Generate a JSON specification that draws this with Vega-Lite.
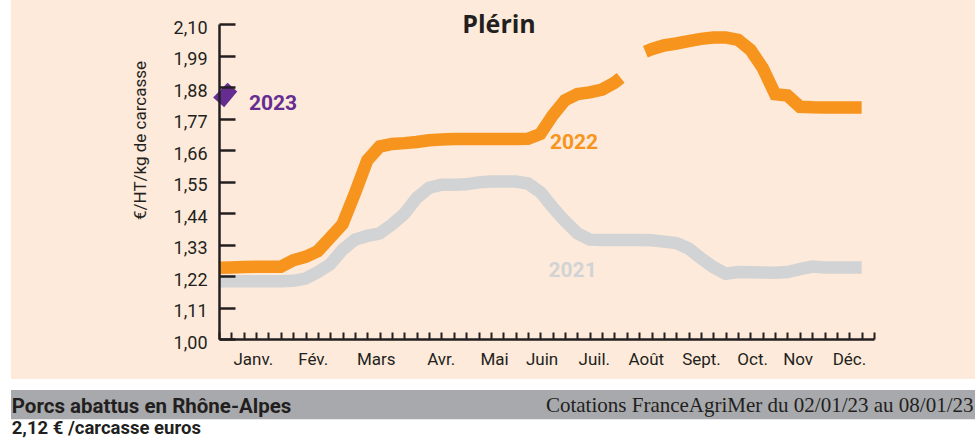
{
  "$schema": "https://vega.github.io/schema/vega-lite/v6.json",
  "width": 655,
  "height": 315,
  "autosize": {"type": "none"},
  "padding": {"left": 219, "top": 24, "right": 101, "bottom": 100},
  "background": "#ffffff",
  "config": {
    "view": {"stroke": null},
    "font": "Roboto",
    "axis": {
      "grid": false,
      "domainColor": "#231f20",
      "tickColor": "#231f20",
      "labelColor": "#231f20",
      "titleColor": "#231f20",
      "labelFont": "Roboto",
      "titleFont": "Roboto"
    }
  },
  "datasets": {
    "prices": [
      {"year": "2021", "seg": "a", "week": 0, "price": 1.202},
      {"year": "2021", "seg": "a", "week": 1, "price": 1.202},
      {"year": "2021", "seg": "a", "week": 2, "price": 1.202},
      {"year": "2021", "seg": "a", "week": 3, "price": 1.202},
      {"year": "2021", "seg": "a", "week": 4, "price": 1.202},
      {"year": "2021", "seg": "a", "week": 5, "price": 1.202},
      {"year": "2021", "seg": "a", "week": 6, "price": 1.203},
      {"year": "2021", "seg": "a", "week": 7, "price": 1.211},
      {"year": "2021", "seg": "a", "week": 8, "price": 1.234},
      {"year": "2021", "seg": "a", "week": 9, "price": 1.261},
      {"year": "2021", "seg": "a", "week": 10, "price": 1.312},
      {"year": "2021", "seg": "a", "week": 11, "price": 1.347},
      {"year": "2021", "seg": "a", "week": 12, "price": 1.36},
      {"year": "2021", "seg": "a", "week": 13, "price": 1.369},
      {"year": "2021", "seg": "a", "week": 14, "price": 1.4},
      {"year": "2021", "seg": "a", "week": 15, "price": 1.438},
      {"year": "2021", "seg": "a", "week": 16, "price": 1.493},
      {"year": "2021", "seg": "a", "week": 17, "price": 1.528},
      {"year": "2021", "seg": "a", "week": 18, "price": 1.539},
      {"year": "2021", "seg": "a", "week": 19, "price": 1.539},
      {"year": "2021", "seg": "a", "week": 20, "price": 1.54},
      {"year": "2021", "seg": "a", "week": 21, "price": 1.547},
      {"year": "2021", "seg": "a", "week": 22, "price": 1.55},
      {"year": "2021", "seg": "a", "week": 23, "price": 1.55},
      {"year": "2021", "seg": "a", "week": 24, "price": 1.55},
      {"year": "2021", "seg": "a", "week": 25, "price": 1.543},
      {"year": "2021", "seg": "a", "week": 26, "price": 1.513},
      {"year": "2021", "seg": "a", "week": 27, "price": 1.46},
      {"year": "2021", "seg": "a", "week": 28, "price": 1.411},
      {"year": "2021", "seg": "a", "week": 29, "price": 1.369},
      {"year": "2021", "seg": "a", "week": 30, "price": 1.347},
      {"year": "2021", "seg": "a", "week": 31, "price": 1.346},
      {"year": "2021", "seg": "a", "week": 32, "price": 1.346},
      {"year": "2021", "seg": "a", "week": 33, "price": 1.346},
      {"year": "2021", "seg": "a", "week": 34, "price": 1.346},
      {"year": "2021", "seg": "a", "week": 35, "price": 1.345},
      {"year": "2021", "seg": "a", "week": 36, "price": 1.34},
      {"year": "2021", "seg": "a", "week": 37, "price": 1.335},
      {"year": "2021", "seg": "a", "week": 38, "price": 1.316},
      {"year": "2021", "seg": "a", "week": 39, "price": 1.282},
      {"year": "2021", "seg": "a", "week": 40, "price": 1.251},
      {"year": "2021", "seg": "a", "week": 41, "price": 1.228},
      {"year": "2021", "seg": "a", "week": 42, "price": 1.234},
      {"year": "2021", "seg": "a", "week": 43, "price": 1.233},
      {"year": "2021", "seg": "a", "week": 44, "price": 1.232},
      {"year": "2021", "seg": "a", "week": 45, "price": 1.231},
      {"year": "2021", "seg": "a", "week": 46, "price": 1.234},
      {"year": "2021", "seg": "a", "week": 47, "price": 1.244},
      {"year": "2021", "seg": "a", "week": 48, "price": 1.253},
      {"year": "2021", "seg": "a", "week": 49, "price": 1.25},
      {"year": "2021", "seg": "a", "week": 50, "price": 1.25},
      {"year": "2021", "seg": "a", "week": 51, "price": 1.25},
      {"year": "2021", "seg": "a", "week": 52, "price": 1.25},
      {"year": "2022", "seg": "a", "week": 0, "price": 1.249},
      {"year": "2022", "seg": "a", "week": 1, "price": 1.25},
      {"year": "2022", "seg": "a", "week": 2, "price": 1.251},
      {"year": "2022", "seg": "a", "week": 3, "price": 1.252},
      {"year": "2022", "seg": "a", "week": 4, "price": 1.252},
      {"year": "2022", "seg": "a", "week": 5, "price": 1.252},
      {"year": "2022", "seg": "a", "week": 6, "price": 1.275},
      {"year": "2022", "seg": "a", "week": 7, "price": 1.287},
      {"year": "2022", "seg": "a", "week": 8, "price": 1.307},
      {"year": "2022", "seg": "a", "week": 9, "price": 1.354},
      {"year": "2022", "seg": "a", "week": 10, "price": 1.401},
      {"year": "2022", "seg": "a", "week": 11, "price": 1.509},
      {"year": "2022", "seg": "a", "week": 12, "price": 1.624},
      {"year": "2022", "seg": "a", "week": 13, "price": 1.672},
      {"year": "2022", "seg": "a", "week": 14, "price": 1.681},
      {"year": "2022", "seg": "a", "week": 15, "price": 1.684},
      {"year": "2022", "seg": "a", "week": 16, "price": 1.688},
      {"year": "2022", "seg": "a", "week": 17, "price": 1.694},
      {"year": "2022", "seg": "a", "week": 18, "price": 1.697},
      {"year": "2022", "seg": "a", "week": 19, "price": 1.698},
      {"year": "2022", "seg": "a", "week": 20, "price": 1.698},
      {"year": "2022", "seg": "a", "week": 21, "price": 1.698},
      {"year": "2022", "seg": "a", "week": 22, "price": 1.698},
      {"year": "2022", "seg": "a", "week": 23, "price": 1.698},
      {"year": "2022", "seg": "a", "week": 24, "price": 1.698},
      {"year": "2022", "seg": "a", "week": 25, "price": 1.699},
      {"year": "2022", "seg": "a", "week": 26, "price": 1.716},
      {"year": "2022", "seg": "a", "week": 27, "price": 1.781},
      {"year": "2022", "seg": "a", "week": 28, "price": 1.834},
      {"year": "2022", "seg": "a", "week": 29, "price": 1.855},
      {"year": "2022", "seg": "a", "week": 30, "price": 1.861},
      {"year": "2022", "seg": "a", "week": 31, "price": 1.871},
      {"year": "2022", "seg": "a", "week": 32, "price": 1.895},
      {"year": "2022", "seg": "a", "week": 32.5, "price": 1.912},
      {"year": "2022", "seg": "b", "week": 34.5, "price": 2.003},
      {"year": "2022", "seg": "b", "week": 35, "price": 2.012},
      {"year": "2022", "seg": "b", "week": 36, "price": 2.025},
      {"year": "2022", "seg": "b", "week": 37, "price": 2.032},
      {"year": "2022", "seg": "b", "week": 38, "price": 2.04},
      {"year": "2022", "seg": "b", "week": 39, "price": 2.048},
      {"year": "2022", "seg": "b", "week": 40, "price": 2.053},
      {"year": "2022", "seg": "b", "week": 41, "price": 2.053},
      {"year": "2022", "seg": "b", "week": 42, "price": 2.045},
      {"year": "2022", "seg": "b", "week": 43, "price": 2.01},
      {"year": "2022", "seg": "b", "week": 44, "price": 1.946},
      {"year": "2022", "seg": "b", "week": 45, "price": 1.855},
      {"year": "2022", "seg": "b", "week": 46, "price": 1.85},
      {"year": "2022", "seg": "b", "week": 47, "price": 1.811},
      {"year": "2022", "seg": "b", "week": 48, "price": 1.809},
      {"year": "2022", "seg": "b", "week": 49, "price": 1.808},
      {"year": "2022", "seg": "b", "week": 50, "price": 1.808},
      {"year": "2022", "seg": "b", "week": 51, "price": 1.808},
      {"year": "2022", "seg": "b", "week": 52, "price": 1.808},
      {"year": "2023", "seg": "a", "week": 0.53, "price": 1.852}
    ],
    "months": [
      {"month": "Janv.", "week": 2.78},
      {"month": "Fév.", "week": 7.62},
      {"month": "Mars", "week": 12.72},
      {"month": "Avr.", "week": 17.98},
      {"month": "Mai", "week": 22.3},
      {"month": "Juin", "week": 26.14},
      {"month": "Juil.", "week": 30.37},
      {"month": "Août", "week": 34.58},
      {"month": "Sept.", "week": 39.04},
      {"month": "Oct.", "week": 43.18},
      {"month": "Nov", "week": 46.86},
      {"month": "Déc.", "week": 51.01}
    ]
  },
  "layer": [
    {
      "data": {"values": [{"part": "panel"}]},
      "mark": {"type": "rect", "color": "#fdeada"},
      "encoding": {
        "x": {"datum": -16.83, "type": "quantitative"},
        "x2": {"datum": 61.2},
        "y": {"datum": 2.184, "type": "quantitative"},
        "y2": {"datum": 0.8603}
      }
    },
    {
      "data": {"values": [{"part": "bar"}]},
      "mark": {"type": "rect", "color": "#a7a9ac"},
      "encoding": {
        "x": {"datum": -16.83, "type": "quantitative"},
        "x2": {"datum": 61.2},
        "y": {"datum": 0.8219, "type": "quantitative"},
        "y2": {"datum": 0.7196}
      }
    },
    {
      "data": {"name": "prices"},
      "transform": [{"filter": "datum.year == '2021'"}],
      "mark": {"type": "line", "color": "#d1d3d4", "strokeWidth": 12.5, "strokeCap": "butt"},
      "encoding": {
        "x": {
          "field": "week", "type": "quantitative",
          "scale": {"domain": [0, 53], "nice": false, "zero": false},
          "axis": {
            "zindex": 1,
            "values": [0,1,2,3,4,5,6,7,8,9,10,11,12,13,14,15,16,17,18,19,20,21,22,23,24,25,26,27,28,29,30,31,32,33,34,35,36,37,38,39,40,41,42,43,44,45,46,47,48,49,50,51,52,53],
            "tickCount": 200,
            "ticks": true,
            "labels": false,
            "title": null,
            "tickSize": -7,
            "tickWidth": 2,
            "tickOpacity": 1,
            "domainWidth": 2.5
          }
        },
        "y": {
          "field": "price", "type": "quantitative",
          "scale": {"domain": [1, 2.1], "nice": false, "zero": false},
          "axis": {
            "zindex": 1,
            "values": [1, 1.11, 1.22, 1.33, 1.44, 1.55, 1.66, 1.77, 1.88, 1.99, 2.1],
            "tickCount": 50,
            "labelExpr": "replace(format(datum.value, '.2f'), '.', ',')",
            "labelOverlap": false,
            "labelFontSize": 18,
            "labelPadding": 28,
            "labelOffset": 4,
            "tickSize": -16,
            "tickWidth": 2.5,
            "domainWidth": 2.5,
            "title": "€/HT/kg de carcasse",
            "titleFontSize": 17,
            "titleFontWeight": "normal",
            "titleAngle": -90,
            "titleAlign": "center",
            "titleBaseline": "middle",
            "titleX": -79,
            "titleY": 116
          }
        },
        "detail": {"field": "seg"}
      }
    },
    {
      "data": {"name": "prices"},
      "transform": [{"filter": "datum.year == '2022'"}],
      "mark": {"type": "line", "color": "#f7941d", "strokeWidth": 12.5, "strokeCap": "butt"},
      "encoding": {
        "x": {"field": "week", "type": "quantitative"},
        "y": {"field": "price", "type": "quantitative"},
        "detail": {"field": "seg"}
      }
    },
    {
      "data": {"name": "prices"},
      "transform": [{"filter": "datum.year == '2023'"}],
      "mark": {"type": "point", "filled": true, "color": "#662d91", "opacity": 1, "size": 620, "shape": "M0.16,-0.98L0.94,-0.29L-0.11,0.98L-1,0.2Z"},
      "encoding": {
        "x": {"field": "week", "type": "quantitative"},
        "y": {"field": "price", "type": "quantitative"}
      }
    },
    {
      "data": {"name": "months"},
      "mark": {"type": "text", "fontSize": 17, "color": "#231f20", "align": "center", "baseline": "alphabetic"},
      "encoding": {
        "x": {"field": "week", "type": "quantitative"},
        "y": {"datum": 0.909, "type": "quantitative"},
        "text": {"field": "month"}
      }
    },
    {
      "data": {"values": [{"label": "Plérin"}]},
      "mark": {"type": "text", "fontSize": 25, "font": "Open Sans", "fontWeight": "bold", "color": "#231f20", "align": "center", "baseline": "alphabetic"},
      "encoding": {
        "x": {"datum": 22.66, "type": "quantitative"},
        "y": {"datum": 2.0686, "type": "quantitative"},
        "text": {"field": "label"}
      }
    },
    {
      "data": {"values": [{"label": "2023"}]},
      "mark": {"type": "text", "fontSize": 21, "fontWeight": "bold", "color": "#662d91", "align": "center", "baseline": "alphabetic"},
      "encoding": {
        "x": {"datum": 4.37, "type": "quantitative"},
        "y": {"datum": 1.8, "type": "quantitative"},
        "text": {"field": "label"}
      }
    },
    {
      "data": {"values": [{"label": "2022"}]},
      "mark": {"type": "text", "fontSize": 21, "fontWeight": "bold", "color": "#f7941d", "align": "center", "baseline": "alphabetic"},
      "encoding": {
        "x": {"datum": 28.73, "type": "quantitative"},
        "y": {"datum": 1.6635, "type": "quantitative"},
        "text": {"field": "label"}
      }
    },
    {
      "data": {"values": [{"label": "2021"}]},
      "mark": {"type": "text", "fontSize": 21, "fontWeight": "bold", "color": "#d1d3d4", "align": "center", "baseline": "alphabetic"},
      "encoding": {
        "x": {"datum": 28.61, "type": "quantitative"},
        "y": {"datum": 1.2176, "type": "quantitative"},
        "text": {"field": "label"}
      }
    },
    {
      "data": {"values": [{"label": "Porcs abattus en Rhône-Alpes"}]},
      "mark": {"type": "text", "fontSize": 20.5, "font": "Roboto", "fontWeight": "bold", "color": "#231f20", "align": "left", "baseline": "alphabetic"},
      "encoding": {
        "x": {"datum": -16.77, "type": "quantitative"},
        "y": {"datum": 0.7405, "type": "quantitative"},
        "text": {"field": "label"}
      }
    },
    {
      "data": {"values": [{"label": "Cotations FranceAgriMer du 02/01/23 au 08/01/23"}]},
      "mark": {"type": "text", "fontSize": 21, "font": "Liberation Serif", "color": "#231f20", "align": "right", "baseline": "alphabetic"},
      "encoding": {
        "x": {"datum": 61.05, "type": "quantitative"},
        "y": {"datum": 0.744, "type": "quantitative"},
        "text": {"field": "label"}
      }
    },
    {
      "data": {"values": [{"label": "2,12 € /carcasse euros"}]},
      "mark": {"type": "text", "fontSize": 18.5, "font": "Roboto", "fontWeight": "bold", "color": "#231f20", "align": "left", "baseline": "alphabetic"},
      "encoding": {
        "x": {"datum": -16.77, "type": "quantitative"},
        "y": {"datum": 0.6683, "type": "quantitative"},
        "text": {"field": "label"}
      }
    }
  ]
}
